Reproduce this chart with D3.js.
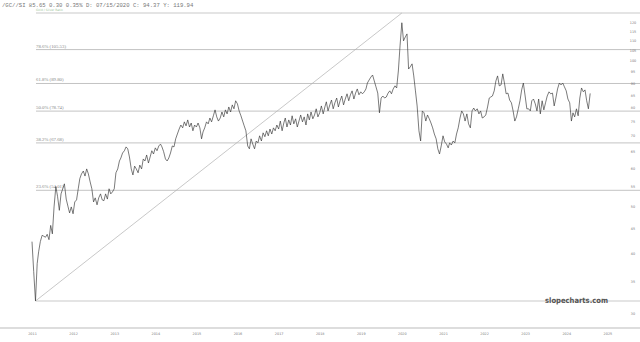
<!DOCTYPE html>
<html><head><meta charset="utf-8">
<script src="https://cdn.jsdelivr.net/npm/d3@7"></script>
<style>body{margin:0;background:#fff}svg{display:block}</style>
</head><body>
<svg id="c" width="640" height="342"></svg>
<script>
// Gold / Silver ratio, semi-monthly readings (1st and 16th of each month)
const y2011 = [42.3,36.7,31.9,38.1,40.3,42.3,43.6,43.4,43.2,43.8,42.7,45.7,43.9,49.9,55.0,52.5,49.1,53.1,54.4,55.7,51.8,50.1,48.5,49.9];
const y2012 = [48.3,51.1,51.6,54.4,57.1,58.4,59.2,57.8,59.8,58.4,56.2,54.4,51.1,52.1,50.4,52.1,53.1,51.6,51.4,53.1,51.8,54.4,53.1,53.6];
const y2013 = [54.4,58.7,59.8,62.1,63.0,64.5,65.2,66.4,65.8,63.3,59.8,58.1,60.6,59.8,58.7,60.9,59.8,62.7,62.1,63.9,61.5,63.3,65.2,64.2];
const y2014 = [66.1,65.2,66.7,67.3,66.4,64.9,62.7,62.1,63.0,64.5,66.7,66.4,69.0,70.6,72.3,73.7,72.7,74.8,73.4,75.5,73.0,74.4,71.7,73.7];
const y2015 = [73.0,74.4,72.7,69.0,71.3,72.7,74.8,74.1,76.2,74.8,77.0,79.2,76.6,75.1,76.2,78.4,76.6,79.2,77.7,80.3,78.4,81.1,79.6,82.7];
const y2016 = [81.5,78.8,77.0,75.1,73.4,71.7,66.7,65.8,69.0,67.3,65.8,68.3,67.7,70.0,68.3,71.0,69.7,71.7,70.0,72.3,70.6,72.7,71.7,73.7];
const y2017 = [72.3,75.1,71.7,74.4,76.2,73.0,75.5,73.7,77.0,74.1,75.9,73.0,75.1,77.3,74.8,76.6,73.7,77.7,75.5,78.4,75.9,77.3,79.6,76.6];
const y2018 = [78.1,80.7,77.7,80.3,82.3,78.8,81.1,83.0,79.6,81.9,83.8,80.3,82.7,84.6,81.1,83.4,85.5,82.7,85.1,86.7,83.4,85.8,87.5,85.1];
const y2019 = [86.3,85.5,86.3,87.5,90.0,91.3,92.6,93.5,90.9,88.4,85.8,78.1,83.8,84.6,83.8,84.2,85.8,86.7,85.5,87.5,88.8,87.9,95.3,107.4];
const y2020 = [119.9,110.0,112.1,113.7,96.2,97.2,98.6,93.1,86.7,80.7,71.7,68.3,78.8,78.1,75.1,77.3,75.9,74.4,72.7,70.6,69.0,65.8,64.2,66.7];
const y2021 = [70.0,68.0,67.3,66.1,67.7,67.0,68.3,67.7,70.6,72.7,76.2,78.8,77.7,75.1,77.7,74.1,72.7,78.8,79.9,78.8,79.6,77.7,78.8,76.2];
const y2022 = [76.6,77.3,80.3,83.8,84.2,84.6,86.7,90.9,93.1,88.8,89.2,94.0,90.0,85.5,85.8,83.0,81.9,78.8,75.1,76.6,79.6,82.7,87.1,90.0];
const y2023 = [84.6,79.6,79.6,78.8,82.7,83.4,81.5,78.8,83.4,77.7,82.7,79.2,81.9,84.6,86.3,85.5,85.8,80.7,83.8,87.5,90.0,89.2,90.0,88.4];
const y2024 = [86.7,83.4,81.9,75.1,78.1,76.6,79.6,77.0,83.8,87.9,86.3,87.1,82.7,79.6,85.65];

const years = [2011,2012,2013,2014,2015,2016,2017,2018,2019,2020,2021,2022,2023,2024,2025];
const yTicks = [30,35,40,45,50,55,60,65,70,75,80,85,90,95,100,105,110,115,120];
const fibPct = ["78.6%","61.8%","50.0%","38.2%","23.6%"];
const fibVal = [105.53,89.80,78.74,67.68,54.01];
const swingLow = 31.89, swingHigh = 125.6;
const header = "/GC//SI 85.65 0.30 0.35% D: 07/15/2020 C:  94.37 Y: 119.94";

const byYear = [y2011,y2012,y2013,y2014,y2015,y2016,y2017,y2018,y2019,y2020,y2021,y2022,y2023,y2024];
const data = [];
byYear.forEach((arr, i) => arr.forEach((v, k) => {
  data.push({date: new Date(2011 + i, Math.floor(k/2), k % 2 ? 16 : 1), v});
}));

const svg = d3.select("#c");
svg.append("rect").attr("width",640).attr("height",342).attr("fill","#fff");

const x = d3.scaleTime().domain([new Date(2011,0,1), new Date(2025,0,1)]).range([32, 607.4]);
const y = d3.scaleLog().domain([swingLow, swingHigh]).range([301, 13]);

// header
svg.append("text").attr("x",2).attr("y",7).attr("font-family","Liberation Mono, monospace")
  .attr("font-size",5.6).attr("fill","#777").text(header);
svg.append("text").attr("x",36).attr("y",11.3).attr("font-family","DejaVu Sans, sans-serif")
  .attr("font-size",3).attr("fill","#9cc79c").text("Gold / Silver Ratio");

// swing lines (0% and 100%)
[swingLow, swingHigh].forEach(v => {
  svg.append("line").attr("x1",36).attr("x2",640).attr("y1",y(v)).attr("y2",y(v))
    .attr("stroke","#bbb").attr("stroke-width",0.8);
});
// fib levels
fibVal.forEach((v, i) => {
  svg.append("line").attr("x1",36).attr("x2",640).attr("y1",y(v)).attr("y2",y(v))
    .attr("stroke","#b4b4b4").attr("stroke-width",0.8);
  svg.append("text").attr("x",36).attr("y",y(v) - 2).attr("font-family","Liberation Serif, serif")
    .attr("font-size",4.8).attr("fill","#888").text(`${fibPct[i]} (${v.toFixed(2)})`);
});

// diagonal from swing low to swing high
const lowPt = d3.least(data, d => d.v);
const highPt = d3.greatest(data, d => d.v);
svg.append("line").attr("x1",x(lowPt.date)).attr("y1",y(swingLow))
  .attr("x2",x(highPt.date)).attr("y2",y(swingHigh))
  .attr("stroke","#b0b0b0").attr("stroke-width",0.7);

// watermark
svg.append("text").attr("x",545).attr("y",302.5).attr("font-family","DejaVu Sans, sans-serif")
  .attr("font-weight","bold").attr("font-size",7.6).attr("fill","#555")
  .attr("textLength",63).attr("lengthAdjust","spacingAndGlyphs").text("slopecharts.com");

// price line
svg.append("path").datum(data)
  .attr("d", d3.line().x(d => x(d.date)).y(d => y(d.v)))
  .attr("fill","none").attr("stroke","#333").attr("stroke-width",0.65).attr("stroke-linejoin","round");

// bottom axis
svg.append("line").attr("x1",0).attr("x2",640).attr("y1",328).attr("y2",328)
  .attr("stroke","#aaa").attr("stroke-width",0.8);
const gx = svg.append("g").attr("transform","translate(0,332)")
  .call(d3.axisBottom(x).tickValues(years.map(Y => new Date(Y,0,1)))
    .tickFormat(d3.timeFormat("%Y")).tickSize(0).tickPadding(1));
gx.select(".domain").remove();
gx.selectAll("text").attr("font-size",3.4).attr("fill","#777").attr("font-family","DejaVu Sans, sans-serif");

// right axis
const gy = svg.append("g").attr("transform","translate(633,0)")
  .call(d3.axisRight(y).tickValues(yTicks).tickFormat(d3.format("d")).tickSize(0).tickPadding(0));
gy.select(".domain").remove();
gy.selectAll("text").attr("font-size",3.4).attr("fill","#777").attr("text-anchor","middle")
  .attr("font-family","DejaVu Sans, sans-serif");
</script>
</body></html>
